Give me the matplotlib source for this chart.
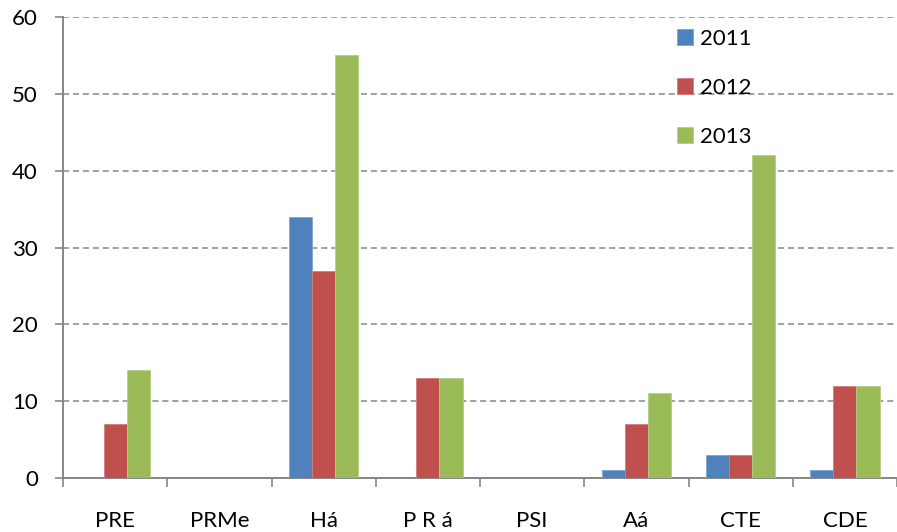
import matplotlib
matplotlib.use("Agg")
import matplotlib.pyplot as plt
import numpy as np

categories = ["PRE", "PRMe", "Há", "P R á", "PSI", "Aá", "CTE", "CDE"]
series_names = ["2011", "2012", "2013"]
v2011 = [0, 0, 34, 0, 0, 1, 3, 1]
v2012 = [7, 0, 27, 13, 0, 7, 3, 12]
v2013 = [14, 0, 55, 13, 0, 11, 42, 12]
colors = ["#4F81BD", "#C0504D", "#9BBB59"]
edges = ["#7FA3D0", "#D47E7B", "#B6CF86"]
yticks = [0, 10, 20, 30, 40, 50, 60]

plt.rcParams['font.family'] = ['Lato', 'DejaVu Sans']

W, H = 897, 532
fig = plt.figure(figsize=(W/100, H/100), dpi=100)
left_px, right_px, top_px, bot_px = 63, 897, 17, 478
ax = fig.add_axes([left_px/W, 1 - bot_px/H, (right_px-left_px)/W, (bot_px-top_px)/H])

cat_w = 105.2
x = np.arange(len(categories))
bw = 0.222
for i, (vals, name) in enumerate(zip([v2011, v2012, v2013], series_names)):
    ax.bar(x + (i-1)*bw, vals, width=bw, color=colors[i], edgecolor=edges[i],
           linewidth=0.6, label=name, zorder=3)

ax.set_xlim(-0.5, -0.5 + (right_px-left_px)/cat_w)
ax.set_ylim(0, 60)
ax.set_yticks(yticks)
ax.set_yticklabels([str(t) for t in yticks], fontsize=16)
ax.set_xticks(x)
ax.set_xticklabels(categories, fontsize=16)
ax.set_xticks(np.arange(len(categories)+1) - 0.5, minor=True)

gc = "#868686"
ax.grid(axis='y', color=gc, linestyle=(0, (4, 2.5)), linewidth=1.1, zorder=0)
for s in ['top', 'right']:
    ax.spines[s].set_visible(False)
for s in ['left', 'bottom']:
    ax.spines[s].set_color(gc)
    ax.spines[s].set_linewidth(1.4)
ax.tick_params(axis='y', length=6, width=1.2, color=gc, pad=12)
ax.tick_params(axis='x', which='major', length=0, pad=24)
ax.tick_params(axis='x', which='minor', length=6.5, width=1.2, color=gc)

leg = ax.legend(loc='upper left', bbox_to_anchor=(677/W, 1 - 29/H),
                bbox_transform=fig.transFigure, frameon=False, fontsize=16,
                handlelength=0.7, handleheight=0.7, handletextpad=0.32,
                labelspacing=1.3, borderpad=0, borderaxespad=0)

fig.savefig("out.png", dpi=100)
